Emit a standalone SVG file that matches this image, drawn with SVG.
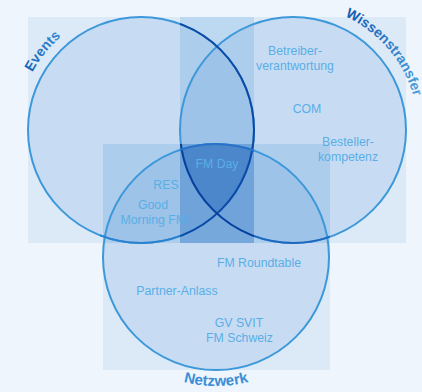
<svg xmlns="http://www.w3.org/2000/svg" width="422" height="392" viewBox="0 0 422 392">
<style>
.sq{fill:#DCEAF8}
.sq2{fill:#BDD8F1}
.sq3{fill:#80AEDE}
.disc{fill:#3C82D2;fill-opacity:0.13;stroke:#3D98DA;stroke-width:2}
.ring{fill:none;stroke-width:2}
.lbl{font-family:"Liberation Sans",Arial,Helvetica,sans-serif;font-size:12.3px;fill:#5AAEE6;text-anchor:middle}
.ttl{font-family:"Liberation Sans",Arial,Helvetica,sans-serif;font-weight:bold;font-size:14px;text-anchor:middle}
</style>
<defs>
<clipPath id="cE1"><rect x="180" y="0" width="82" height="250"/></clipPath>
<clipPath id="cE2"><rect x="100" y="144" width="80" height="106"/></clipPath>
<clipPath id="cW1"><rect x="170" y="144" width="84" height="106"/></clipPath>
<clipPath id="cW2"><rect x="254" y="144" width="76" height="106"/></clipPath>
<clipPath id="cN1"><rect x="180" y="136" width="74" height="107"/></clipPath>
<path id="pE" d="M18,130 A123,123 0 0 1 141,7"/>
<path id="pW" d="M293,5 A125,125 0 0 1 418,130"/>
<path id="pN" d="M87,257 A129,129 0 0 0 345,257"/>
<linearGradient id="gE" gradientUnits="userSpaceOnUse" x1="25" y1="72" x2="62" y2="32"><stop offset="0" stop-color="#1660B8"/><stop offset="1" stop-color="#3A8CD4"/></linearGradient>
<linearGradient id="gW" gradientUnits="userSpaceOnUse" x1="345" y1="10" x2="420" y2="96"><stop offset="0" stop-color="#1559B0"/><stop offset="1" stop-color="#4CA2E0"/></linearGradient>
</defs>
<rect x="0" y="0" width="422" height="392" fill="#EEF5FC"/>
<g id="squares">
<rect class="sq" x="28" y="17" width="226" height="226"/>
<rect class="sq" x="180" y="17" width="226" height="226"/>
<rect class="sq" x="103" y="144" width="227" height="226"/>
<rect class="sq2" x="180" y="17" width="74" height="226"/>
<rect class="sq2" x="103" y="144" width="151" height="99"/>
<rect class="sq2" x="180" y="144" width="150" height="99"/>
<rect class="sq3" x="180" y="144" width="74" height="99"/>
</g>
<g id="events">
<circle class="disc" cx="141" cy="130" r="113"/>
<text class="ttl" fill="url(#gE)"><textPath href="#pE" startOffset="43%">Events</textPath></text>
</g>
<g id="wissenstransfer">
<circle class="disc" cx="293" cy="130" r="113"/>
<text class="ttl" fill="url(#gW)"><textPath href="#pW" startOffset="55%">Wissenstransfer</textPath></text>
</g>
<g id="netzwerk">
<circle class="disc" cx="216" cy="257" r="113"/>
<text class="ttl" fill="#3A8ED6" style="font-size:15px"><textPath href="#pN" startOffset="50%">Netzwerk</textPath></text>
</g>
<g id="overlaps">
<path d="M181.7,149.3 A113,113 0 0 1 252.2,150 A113,113 0 0 1 217,213.6 A113,113 0 0 1 181.7,149.3 Z" fill="#1A5CB8" fill-opacity="0.35"/>
<circle class="ring" cx="141" cy="130" r="113" stroke="#0C4AA5" clip-path="url(#cE1)"/>
<circle class="ring" cx="141" cy="130" r="113" stroke="#2B82CE" clip-path="url(#cE2)"/>
<circle class="ring" cx="293" cy="130" r="113" stroke="#0B3F9C" clip-path="url(#cW1)"/>
<circle class="ring" cx="293" cy="130" r="113" stroke="#1F68C0" clip-path="url(#cW2)"/>
<circle class="ring" cx="216" cy="257" r="113" stroke="#2A72C8" clip-path="url(#cN1)"/>
</g>
<g id="connectors"/>
<g id="labels">
<text class="lbl" x="295" y="55">Betreiber-</text>
<text class="lbl" x="295" y="70">verantwortung</text>
<text class="lbl" x="307" y="113">COM</text>
<text class="lbl" x="348" y="146">Besteller-</text>
<text class="lbl" x="348" y="161">kompetenz</text>
<text class="lbl" x="217" y="168">FM Day</text>
<text class="lbl" x="166" y="189">RES</text>
<text class="lbl" x="153" y="209">Good</text>
<text class="lbl" x="155" y="224">Morning FM!</text>
<text class="lbl" x="259" y="267">FM Roundtable</text>
<text class="lbl" x="177" y="295">Partner-Anlass</text>
<text class="lbl" x="239" y="327">GV SVIT</text>
<text class="lbl" x="239.5" y="342">FM Schweiz</text>
</g>
</svg>
